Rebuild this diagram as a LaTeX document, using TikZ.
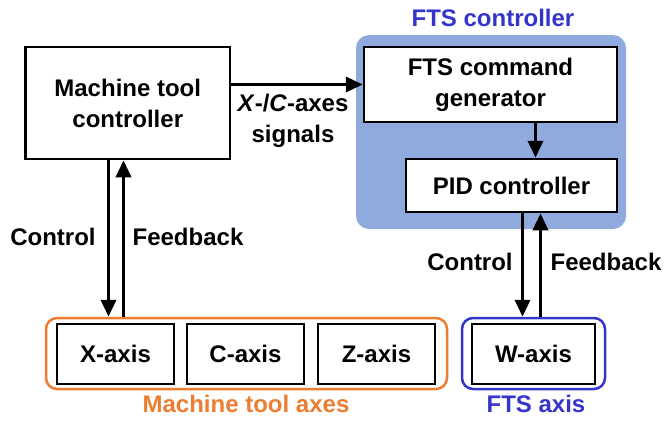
\documentclass[tikz,border=0pt]{standalone}
\usepackage{fontspec}
\setmainfont{Liberation Sans}
\usepackage{xcolor}
\usetikzlibrary{arrows.meta}

\definecolor{ctrlblue}{HTML}{8FAADC}
\definecolor{axisorange}{HTML}{ED7D31}
\definecolor{ftsblue}{HTML}{3535CC}

\begin{document}
\begin{tikzpicture}[x=1pt,y=-1pt,
        font=\fontsize{24}{31}\selectfont\bfseries,
        box/.style={draw,line width=2.5pt,fill=white,align=center,inner sep=0pt},
        frame/.style={draw,line width=2.5pt,rounded corners=11pt,inner sep=0pt},
        lbl/.style={inner sep=0pt,align=center},
        arr/.style={line width=3.5pt,-{Triangle[length=17pt,width=15pt]}}]
            \useasboundingbox (0,0) rectangle (667,421);

            \node (ftsbg) at (491,132) [fill=ctrlblue,rounded corners=13pt,minimum width=270pt,minimum height=194pt] {};
            \node (ftstitle) at (493,18) [lbl,text=ftsblue] {FTS controller};

            \node (mtc) at (127.75,103) [box,minimum width=204.5pt,minimum height=112pt] {Machine tool\\controller};
            \node (gen) at (490.5,84.5) [box,minimum width=253pt,minimum height=75pt] {FTS command\\generator};
            \node (pid) at (511.5,185.5) [box,minimum width=211pt,minimum height=53pt] {PID controller};

            \node (mtaxes) at (246.5,353.5) [frame,draw=axisorange,minimum width=401pt,minimum height=71pt] {};
            \node (xax) at (115.5,354) [box,minimum width=117pt,minimum height=60pt] {X-axis};
            \node (cax) at (245.5,354) [box,minimum width=117pt,minimum height=60pt] {C-axis};
            \node (zax) at (376.5,354) [box,minimum width=117pt,minimum height=60pt] {Z-axis};
            \node (ftsaxis) at (533.5,353.5) [frame,draw=ftsblue,minimum width=143pt,minimum height=71pt] {};
            \node (wax) at (533.5,354) [box,minimum width=123pt,minimum height=60pt] {W-axis};

            \node (mtalbl) at (246,404) [lbl,text=axisorange] {Machine tool axes};
            \node (ftsalbl) at (536,404) [lbl,text=ftsblue] {FTS axis};

            \node (sig) at (293,121) [lbl] {\textit{X}-/\textit{C}-axes\\signals};
            \node (ctrlA) at (53,237) [lbl] {Control};
            \node (fbA) at (188,237) [lbl] {Feedback};
            \node (ctrlB) at (470,262) [lbl] {Control};
            \node (fbB) at (606,262) [lbl] {Feedback};

            \draw[arr] (mtc.east |- gen.west) -- (gen.west);
            \draw[arr] ([xshift=24pt]pid.north |- gen.south) -- ([xshift=24pt]pid.north);
            \draw[arr] ([xshift=-7pt]xax.north |- mtc.south) -- ([xshift=-7pt]xax.north |- mtaxes.north);
            \draw[arr] ([xshift=8pt]xax.north |- mtaxes.north) -- ([xshift=8pt]xax.north |- mtc.south);
            \draw[arr] ([xshift=-11pt]wax.north |- pid.south) -- ([xshift=-11pt]wax.north |- ftsaxis.north);
            \draw[arr] ([xshift=7pt]wax.north |- ftsaxis.north) -- ([xshift=7pt]wax.north |- pid.south);

        \end{tikzpicture}
\end{document}
